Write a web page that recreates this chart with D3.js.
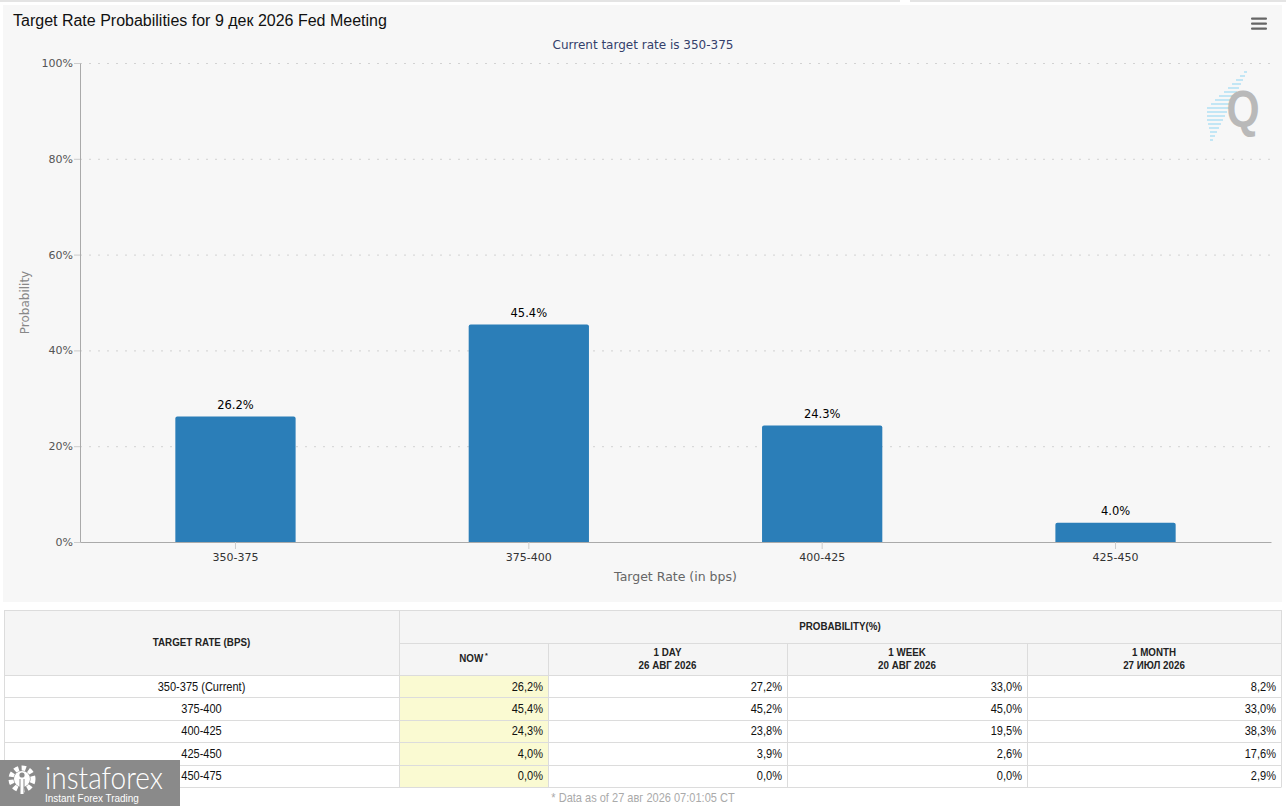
<!DOCTYPE html>
<html>
<head>
<meta charset="utf-8">
<script src="https://cdn.jsdelivr.net/npm/d3@7"></script>
<style>
  html, body { margin: 0; padding: 0; background: #fff; }
  svg { display: block; }
</style>
</head>
<body>
<svg width="1286" height="806"></svg>
<script>
// chart data
const chartRates = ['350-375', '375-400', '400-425', '425-450'];
const chartProbs = [26.2, 45.4, 24.3, 4.0];
const yTicks = [0, 20, 40, 60, 80, 100];

// table data
const tableRates = ['350-375 (Current)', '375-400', '400-425', '425-450', '450-475'];
const probNow = [26.2, 45.4, 24.3, 4.0, 0.0];
const prob1Day = [27.2, 45.2, 23.8, 3.9, 0.0];
const prob1Week = [33.0, 45.0, 19.5, 2.6, 0.0];
const prob1Month = [8.2, 33.0, 38.3, 17.6, 2.9];
const periodLabels = ['NOW', '1 DAY', '1 WEEK', '1 MONTH'];
const periodDates = ['', '26 АВГ 2026', '20 АВГ 2026', '27 ИЮЛ 2026'];

const svg = d3.select('svg');
const sans = '"DejaVu Sans", Verdana, sans-serif';
const arial = '"Liberation Sans", Arial, sans-serif';

// page strip + chart panel
svg.append('rect').attr('x', 0).attr('y', 0).attr('width', 900).attr('height', 2).attr('fill', '#e4e4e4');
svg.append('rect').attr('x', 910).attr('y', 0).attr('width', 376).attr('height', 2).attr('fill', '#e4e4e4');
svg.append('rect').attr('x', 3).attr('y', 5).attr('width', 1279).attr('height', 597).attr('fill', '#f7f7f7');

const m = {left: 80, right: 1271, top: 63, bottom: 542};

const x = d3.scaleBand()
    .domain(chartRates)
    .range([m.left, m.right])
    .paddingInner(0.59)
    .paddingOuter(0.325);

const y = d3.scaleLinear()
    .domain([0, 100])
    .range([m.bottom, m.top]);

// dotted grid
svg.append('g').selectAll('line')
    .data(yTicks.filter(d => d > 0))
    .join('line')
        .attr('x1', m.left).attr('x2', m.right)
        .attr('y1', d => y(d) + 0.5).attr('y2', d => y(d) + 0.5)
        .attr('stroke', '#d2d2d2')
        .attr('stroke-width', 1)
        .attr('stroke-dasharray', '2,7');

// bars, rounded top corners
const r = 2;
const barData = chartRates.map((k, i) => ({k, v: chartProbs[i]}));
svg.append('g').selectAll('path')
    .data(barData)
    .join('path')
        .attr('d', d => {
            const x0 = x(d.k), x1 = x0 + x.bandwidth(), y0 = y(d.v), yb = y(0);
            return `M${x0},${yb}V${y0 + r}Q${x0},${y0} ${x0 + r},${y0}H${x1 - r}Q${x1},${y0} ${x1},${y0 + r}V${yb}Z`;
        })
        .attr('fill', '#2b7eb8');

// data labels
svg.append('g').selectAll('text')
    .data(barData)
    .join('text')
        .attr('x', d => x(d.k) + x.bandwidth() / 2)
        .attr('y', d => y(d.v) - 8)
        .attr('text-anchor', 'middle')
        .attr('fill', '#000')
        .style('font', `11.5px ${sans}`)
        .text(d => d.v.toFixed(1) + '%');

// y axis
const yAxis = svg.append('g')
    .attr('transform', `translate(${m.left},0)`)
    .call(d3.axisLeft(y).tickValues(yTicks).tickFormat(d => d + '%').tickSize(6).tickSizeOuter(0).tickPadding(1));
yAxis.select('.domain').attr('stroke', '#aaa');
yAxis.selectAll('.tick line').attr('stroke', '#ccc');
yAxis.selectAll('.tick text').attr('fill', '#555').style('font', `11px ${sans}`);

// x axis
const xAxis = svg.append('g')
    .attr('transform', `translate(0,${m.bottom})`)
    .call(d3.axisBottom(x).tickSize(7).tickSizeOuter(0).tickPadding(4));
xAxis.select('.domain').attr('stroke', '#aaa');
xAxis.selectAll('.tick line').attr('stroke', '#ccc');
xAxis.selectAll('.tick text').attr('fill', '#333').style('font', `11px ${sans}`);

// titles
svg.append('text')
    .attr('x', 13).attr('y', 26)
    .attr('fill', '#111')
    .style('font', `16px ${arial}`)
    .text('Target Rate Probabilities for 9 дек 2026 Fed Meeting');

svg.append('text')
    .attr('x', 643).attr('y', 49)
    .attr('text-anchor', 'middle')
    .attr('fill', '#34406b')
    .style('font', `12px ${sans}`)
    .text('Current target rate is 350-375');

svg.append('text')
    .attr('x', (m.left + m.right) / 2).attr('y', 581)
    .attr('text-anchor', 'middle')
    .attr('fill', '#666')
    .style('font', `12.5px ${sans}`)
    .text('Target Rate (in bps)');

svg.append('text')
    .attr('transform', `translate(29,${(m.top + m.bottom) / 2}) rotate(-90)`)
    .attr('text-anchor', 'middle')
    .attr('fill', '#888')
    .style('font', `12px ${sans}`)
    .text('Probability');

// menu icon
svg.append('g').selectAll('rect')
    .data([17.5, 22.5, 27.5])
    .join('rect')
        .attr('x', 1251).attr('y', d => d)
        .attr('width', 16).attr('height', 2.2)
        .attr('rx', 1)
        .attr('fill', '#666');

// Q logo
const logo = svg.append('g');
const dashes = [[72, 3], [76, 5], [80, 7], [84, 9], [88, 11], [92, 13], [96, 16], [100, 18], [104, 20], [108, 22], [112, 20], [116, 18], [120, 16], [124, 13], [128, 10], [132, 7], [136, 5], [140, 3]];
logo.selectAll('line')
    .data(dashes)
    .join('line')
        .attr('x1', d => 1247 - (d[0] - 72) * 0.5 - d[1])
        .attr('x2', d => 1247 - (d[0] - 72) * 0.5)
        .attr('y1', d => d[0]).attr('y2', d => d[0])
        .attr('stroke', '#b5e2f4')
        .attr('stroke-width', 1.6);
logo.append('text')
    .attr('transform', 'translate(1243,127) scale(0.82,1)')
    .attr('text-anchor', 'middle')
    .attr('fill', '#b9b9b9')
    .style('font', `bold 52px ${arial}`)
    .text('Q');

// ---------- table ----------
const cols = [4, 399, 548, 787, 1027, 1281];
const hTop = 610, hMid = 643, hBot = 675, rowH = 22.4;
const bodyBot = hBot + rowH * tableRates.length;
const fmt = v => v.toFixed(1).replace('.', ',') + '%';
const series = [probNow, prob1Day, prob1Week, prob1Month];
const hdrFont = `bold 11px ${arial}`, hdrSx = 0.89;
const bodyFont = `12px ${arial}`, bodySx = 0.92;
const place = (px, py, sx) => `translate(${px},${py}) scale(${sx},1)`;

const tbl = svg.append('g');
tbl.append('rect')
    .attr('x', cols[0]).attr('y', hTop)
    .attr('width', cols[5] - cols[0]).attr('height', bodyBot - hTop)
    .attr('fill', '#fff');
tbl.append('rect')
    .attr('x', cols[0]).attr('y', hTop)
    .attr('width', cols[5] - cols[0]).attr('height', hBot - hTop)
    .attr('fill', '#f5f5f5');
tbl.append('rect')
    .attr('x', cols[1]).attr('y', hBot)
    .attr('width', cols[2] - cols[1]).attr('height', bodyBot - hBot)
    .attr('fill', '#fafad2');

// horizontal rules
const hLines = [{y: hTop, x1: cols[0]}, {y: hMid, x1: cols[1]}, {y: hBot, x1: cols[0]}]
    .concat(tableRates.map((d, i) => ({y: hBot + rowH * (i + 1), x1: cols[0]})));
tbl.selectAll('line.h')
    .data(hLines)
    .join('line')
        .attr('class', 'h')
        .attr('x1', d => d.x1).attr('x2', cols[5])
        .attr('y1', d => Math.round(d.y) + 0.5).attr('y2', d => Math.round(d.y) + 0.5)
        .attr('stroke', '#dcdcdc');

// vertical rules
const vLines = cols.map((c, i) => ({x: c, y1: (i === 0 || i === 1 || i === 5) ? hTop : hMid}));
tbl.selectAll('line.v')
    .data(vLines)
    .join('line')
        .attr('class', 'v')
        .attr('x1', d => d.x + 0.5).attr('x2', d => d.x + 0.5)
        .attr('y1', d => d.y1).attr('y2', Math.round(bodyBot) + 0.5)
        .attr('stroke', '#dcdcdc');

// header texts
tbl.append('text')
    .attr('transform', place((cols[0] + cols[1]) / 2, 646, hdrSx))
    .attr('text-anchor', 'middle').attr('fill', '#222')
    .style('font', hdrFont).text('TARGET RATE (BPS)');
tbl.append('text')
    .attr('transform', place((cols[1] + cols[5]) / 2, 630, hdrSx))
    .attr('text-anchor', 'middle').attr('fill', '#222')
    .style('font', hdrFont).text('PROBABILITY(%)');

const ph = tbl.selectAll('text.ph')
    .data(periodLabels.map((p, i) => ({p, d: periodDates[i], i})))
    .join('text')
        .attr('class', 'ph')
        .attr('transform', d => place((cols[d.i + 1] + cols[d.i + 2]) / 2, d.d ? 656 : 662, hdrSx))
        .attr('text-anchor', 'middle').attr('fill', '#222')
        .style('font', hdrFont);
ph.append('tspan').text(d => d.p);
ph.filter(d => !d.d).append('tspan')
    .attr('dx', 2).attr('dy', -4)
    .style('font-size', '8px')
    .text('*');
ph.filter(d => d.d).append('tspan')
    .attr('x', 0)
    .attr('dy', 13)
    .text(d => d.d);

// body
tbl.selectAll('text.rl')
    .data(tableRates)
    .join('text')
        .attr('class', 'rl')
        .attr('transform', (d, i) => place((cols[0] + cols[1]) / 2, hBot + rowH * i + 15.5, bodySx))
        .attr('text-anchor', 'middle').attr('fill', '#111')
        .style('font', bodyFont)
        .text(d => d);

series.forEach((s, j) => {
    tbl.selectAll(`text.c${j}`)
        .data(s)
        .join('text')
            .attr('class', `c${j}`)
            .attr('transform', (d, i) => place(cols[j + 2] - 5, hBot + rowH * i + 15.5, bodySx))
            .attr('text-anchor', 'end').attr('fill', '#111')
            .style('font', bodyFont)
            .text(fmt);
});

svg.append('text')
    .attr('transform', place(643, 802, bodySx))
    .attr('text-anchor', 'middle').attr('fill', '#aaa')
    .style('font', bodyFont)
    .text('* Data as of 27 авг 2026 07:01:05 CT');

// watermark
const wm = svg.append('g');
wm.append('rect').attr('x', 0).attr('y', 760).attr('width', 180).attr('height', 46).attr('fill', '#8a8a8a');
wm.append('circle').attr('cx', 22).attr('cy', 779).attr('r', 11)
    .attr('fill', 'none').attr('stroke', '#fff').attr('stroke-width', 5).attr('stroke-dasharray', '4.3,3');
wm.append('circle').attr('cx', 22).attr('cy', 779).attr('r', 8).attr('fill', '#fff');
wm.append('circle').attr('cx', 22).attr('cy', 775).attr('r', 2.6).attr('fill', '#8a8a8a');
wm.append('rect').attr('x', 19.5).attr('y', 779).attr('width', 5).attr('height', 14).attr('fill', '#8a8a8a');
wm.append('rect').attr('x', 20.5).attr('y', 779).attr('width', 3).attr('height', 15).attr('fill', '#fff');

// fit a text to a width by scaling it horizontally
function fitText(px, py, w, font, txt) {
    const t = wm.append('text').attr('fill', '#fff').style('font', font).text(txt);
    const sx = w / t.node().getComputedTextLength();
    t.attr('transform', place(px, py, sx));
}
fitText(45, 789, 118, `300 32px Lato, ${arial}`, 'instaforex');
fitText(45, 802, 94, `11px ${arial}`, 'Instant Forex Trading');
</script>
</body>
</html>
